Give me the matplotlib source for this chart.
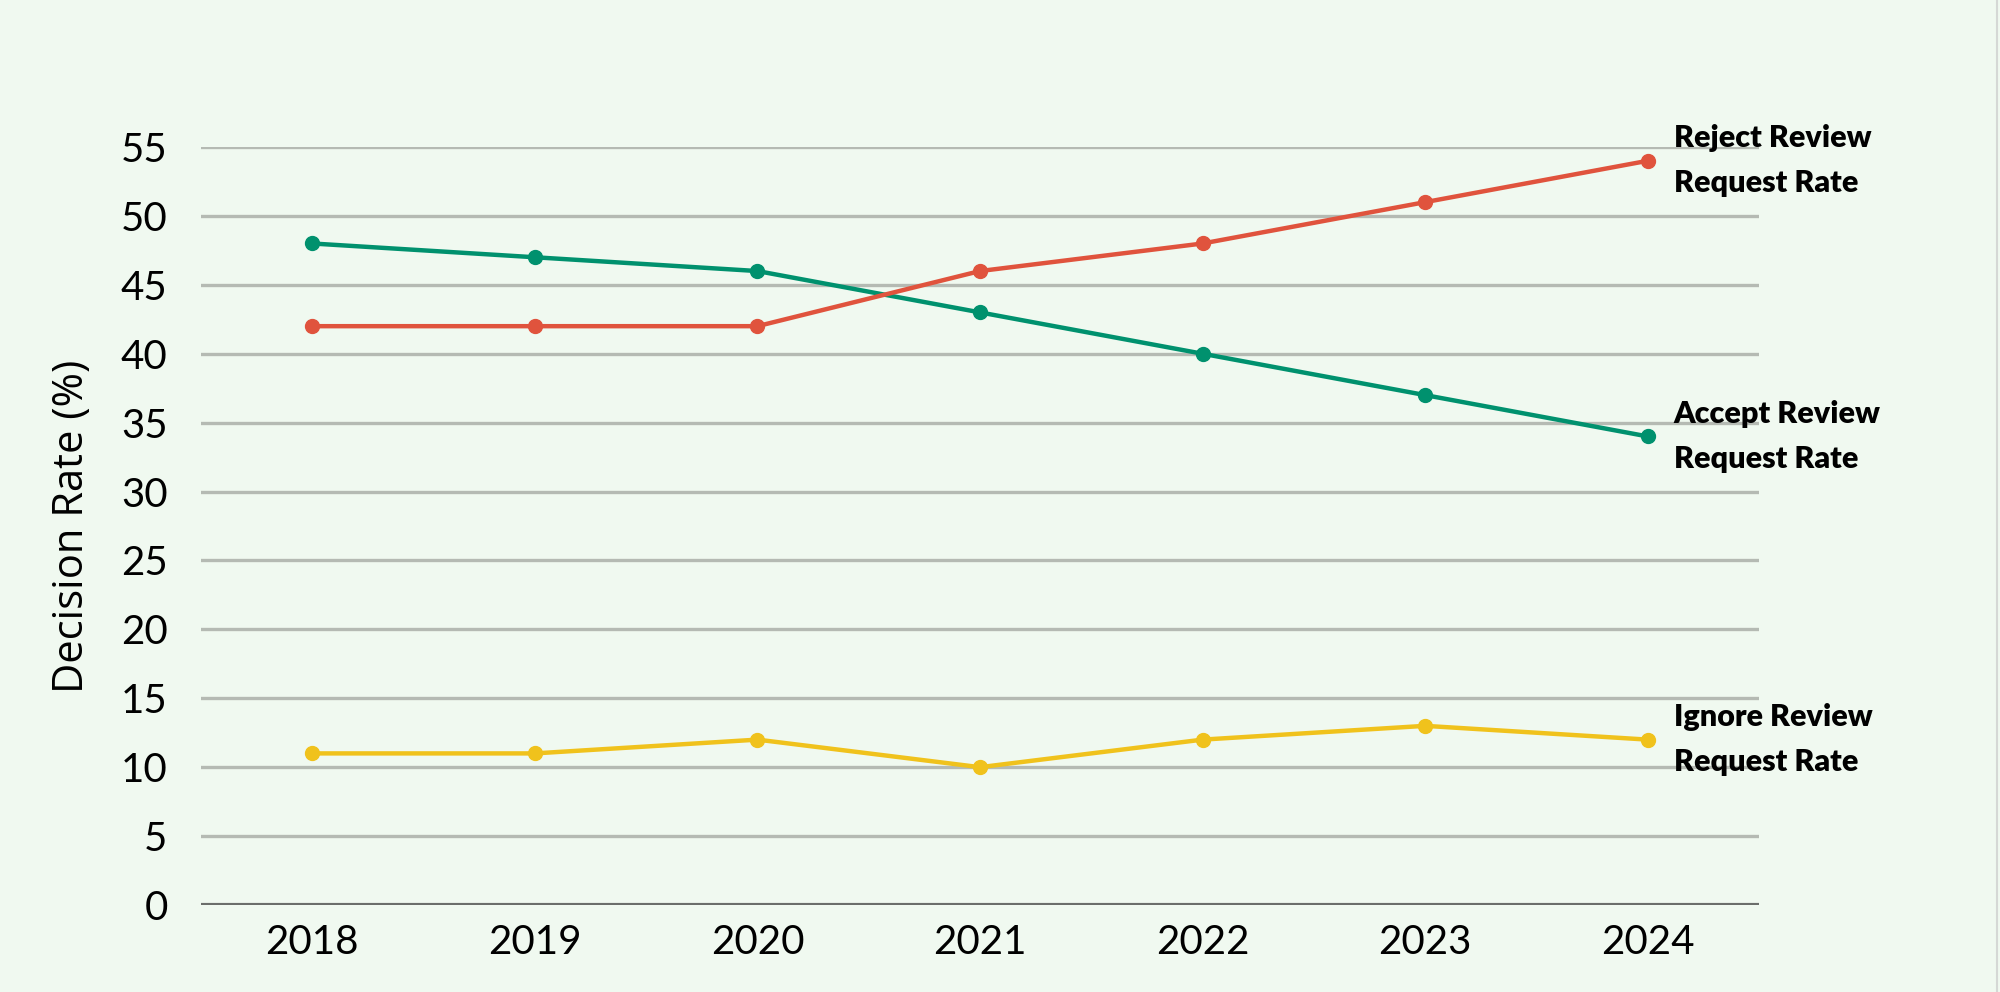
import matplotlib
matplotlib.use("Agg")
import matplotlib.pyplot as plt
from matplotlib.lines import Line2D

BG = "#f0f9f0"
GRID = "#b5bab3"
BASE = "#6b6e6b"
GREEN = "#00916e"
RED = "#e0533d"
YELLOW = "#f0c21c"

years = ["2018", "2019", "2020", "2021", "2022", "2023", "2024"]
accept = [48, 47, 46, 43, 40, 37, 34]
reject = [42, 42, 42, 46, 48, 51, 54]
ignore = [11, 11, 12, 10, 12, 13, 12]
yticks = list(range(0, 60, 5))

series = [
    ("Accept Review\nRequest Rate", accept, GREEN),
    ("Reject Review\nRequest Rate", reject, RED),
    ("Ignore Review\nRequest Rate", ignore, YELLOW),
]

fig = plt.figure(figsize=(20, 9.92), dpi=100, facecolor=BG)
ax = fig.add_axes([0.1005, 0.0877, 0.779, 0.7641])
ax.set_facecolor(BG)

xs = list(range(len(years)))
for label, vals, c in series:
    ax.plot(xs, vals, color=c, lw=3.2, marker="o", ms=10, zorder=3)
    ax.text(xs[-1] + 0.117, vals[-1], label, ha="left", va="center",
            fontsize=22, fontweight="heavy", family="Lato", color="black",
            linespacing=1.75, zorder=4)

for t in yticks[1:]:
    ax.axhline(t, color=GRID, lw=2.4, zorder=1)
ax.axhline(0, color=BASE, lw=3, zorder=2)

ax.set_xlim(-0.5, 6.5)
ax.set_ylim(0, 55)
ax.set_xticks(xs, years)
ax.set_yticks(yticks)
ax.tick_params(length=0, labelsize=29)
ax.tick_params(axis="y", pad=24)
ax.tick_params(axis="x", pad=14)
for lab in ax.get_xticklabels() + ax.get_yticklabels():
    lab.set_family("Lato")
for s in ax.spines.values():
    s.set_visible(False)

ax.set_ylabel("Decision Rate (%)", fontsize=30, family="Open Sans", va="center")
ax.yaxis.set_label_coords(-0.0828, 0.5)

fig.add_artist(Line2D([0.9987, 0.9987], [0, 1], color="#d5d8d5", lw=1.5))

fig.savefig("out.png", dpi=100, facecolor=BG)
